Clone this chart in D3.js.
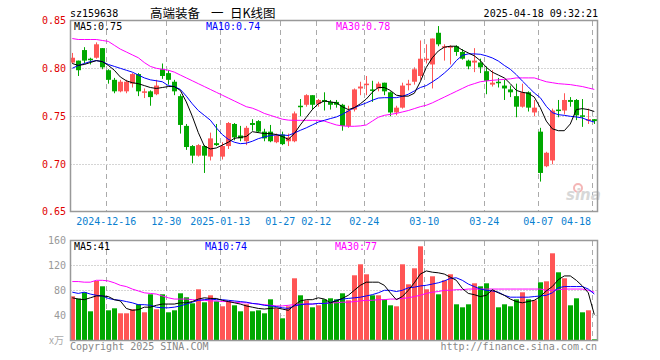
<!DOCTYPE html>
<html>
<head>
<meta charset="utf-8">
<script src="https://cdn.jsdelivr.net/npm/d3@7"></script>
<style>
  body { margin: 0; background: #fff; }
  text { font-family: "DejaVu Sans Mono", monospace; font-size: 10px; }
</style>
</head>
<body>
<div id="kline"></div>
<script>
// trading days shown on the chart
var dates = ["12-06","12-09","12-10","12-11","12-12","12-13","12-16","12-17","12-18","12-19","12-20","12-23","12-24","12-25","12-26","12-27","12-30","12-31",
  "01-02","01-03","01-06","01-07","01-08","01-09","01-10","01-13","01-14","01-15","01-16","01-17","01-20","01-21","01-22","01-23","01-24","01-27",
  "02-05","02-06","02-07","02-10","02-11","02-12","02-13","02-14","02-17","02-18","02-19","02-20","02-21","02-24","02-25","02-26","02-27","02-28",
  "03-03","03-04","03-05","03-06","03-07","03-10","03-11","03-12","03-13","03-14","03-17","03-18","03-19","03-20","03-21","03-24","03-25","03-26","03-27","03-28","03-31",
  "04-01","04-02","04-03","04-07","04-08","04-09","04-10","04-11","04-14","04-15","04-16","04-17","04-18"];

var open  = [0.806,0.808,0.819,0.810,0.811,0.821,0.798,0.788,0.776,0.776,0.784,0.794,0.775,0.776,0.773,0.799,0.795,0.786,
  0.771,0.740,0.719,0.709,0.719,0.708,0.722,0.708,0.719,0.742,0.730,0.724,0.743,0.745,0.734,0.734,0.723,0.731,
  0.724,0.724,0.761,0.762,0.772,0.763,0.767,0.765,0.765,0.762,0.740,0.757,0.779,0.783,0.778,0.779,0.785,0.775,
  0.754,0.759,0.783,0.786,0.792,0.809,0.804,0.837,0.822,0.822,0.823,0.817,0.808,0.806,0.806,0.797,0.783,0.786,0.782,0.778,0.771,
  0.760,0.775,0.754,0.734,0.698,0.704,0.757,0.756,0.767,0.767,0.751,0.746,0.747];
var high  = [0.816,0.808,0.822,0.811,0.827,0.821,0.799,0.790,0.788,0.788,0.795,0.795,0.779,0.777,0.788,0.805,0.798,0.788,
  0.773,0.742,0.720,0.721,0.720,0.733,0.742,0.723,0.744,0.743,0.740,0.740,0.747,0.746,0.737,0.741,0.732,0.734,
  0.732,0.755,0.768,0.773,0.772,0.768,0.775,0.767,0.767,0.763,0.761,0.779,0.786,0.792,0.787,0.786,0.785,0.776,
  0.761,0.785,0.788,0.801,0.829,0.825,0.831,0.844,0.825,0.824,0.824,0.820,0.809,0.821,0.810,0.802,0.798,0.790,0.788,0.782,0.784,
  0.784,0.776,0.767,0.738,0.713,0.758,0.767,0.774,0.770,0.768,0.768,0.758,0.747];
var low   = [0.805,0.792,0.805,0.804,0.810,0.799,0.784,0.774,0.775,0.774,0.780,0.771,0.769,0.761,0.772,0.789,0.783,0.772,
  0.732,0.715,0.701,0.708,0.691,0.704,0.719,0.705,0.716,0.725,0.724,0.720,0.735,0.733,0.724,0.723,0.722,0.720,
  0.719,0.723,0.750,0.760,0.757,0.760,0.756,0.757,0.759,0.735,0.738,0.755,0.772,0.772,0.765,0.776,0.772,0.750,
  0.751,0.758,0.777,0.783,0.788,0.805,0.779,0.823,0.808,0.804,0.813,0.809,0.799,0.796,0.795,0.773,0.781,0.780,0.767,0.770,0.749,
  0.759,0.755,0.750,0.682,0.697,0.700,0.749,0.752,0.760,0.746,0.739,0.742,0.742];
var close = [0.811,0.798,0.808,0.809,0.825,0.801,0.788,0.776,0.786,0.786,0.794,0.776,0.776,0.770,0.782,0.792,0.788,0.776,
  0.741,0.718,0.709,0.720,0.709,0.727,0.720,0.719,0.743,0.728,0.727,0.738,0.741,0.734,0.727,0.724,0.730,0.721,
  0.728,0.753,0.760,0.772,0.762,0.767,0.765,0.762,0.762,0.740,0.756,0.778,0.781,0.784,0.777,0.784,0.776,0.754,
  0.759,0.782,0.784,0.799,0.810,0.810,0.831,0.825,0.823,0.823,0.817,0.810,0.802,0.808,0.801,0.787,0.785,0.785,0.779,0.775,0.760,
  0.775,0.759,0.759,0.691,0.712,0.756,0.756,0.767,0.765,0.751,0.750,0.747,0.745];

var ma5  = [0.805,0.803,0.804,0.806,0.808,0.807,0.803,0.798,0.791,0.787,0.785,0.784,0.782,0.780,0.779,0.780,0.781,0.781,
  0.777,0.765,0.750,0.733,0.719,0.716,0.717,0.720,0.723,0.727,0.728,0.729,0.734,0.733,0.732,0.732,0.731,0.729,
  0.726,0.732,0.741,0.749,0.757,0.763,0.766,0.765,0.764,0.760,0.757,0.759,0.763,0.768,0.775,0.780,0.780,0.777,
  0.772,0.771,0.771,0.774,0.786,0.801,0.811,0.818,0.822,0.823,0.823,0.819,0.816,0.813,0.808,0.801,0.796,0.793,0.790,0.784,0.777,
  0.775,0.774,0.770,0.759,0.745,0.737,0.735,0.735,0.742,0.757,0.758,0.757,0.755];
var ma10 = [0.800,0.803,0.805,0.807,0.808,0.807,0.804,0.802,0.800,0.798,0.796,0.793,0.790,0.788,0.787,0.786,0.782,0.781,
  0.778,0.771,0.763,0.756,0.751,0.746,0.738,0.731,0.726,0.723,0.7215,0.722,0.724,0.7267,0.7285,0.730,0.7306,0.7306,
  0.730,0.7326,0.7354,0.738,0.741,0.744,0.7458,0.7476,0.7493,0.752,0.7555,0.759,0.7615,0.764,0.7667,0.769,0.7694,0.7694,
  0.7694,0.7708,0.773,0.7764,0.780,0.782,0.7858,0.790,0.795,0.8007,0.808,0.8135,0.815,0.815,0.8146,0.813,0.8108,0.8076,0.803,0.799,0.7934,
  0.7868,0.7806,0.7743,0.7694,0.7604,0.7538,0.7517,0.751,0.750,0.7493,0.7483,0.7458,0.744];
var ma30 = [0.831,0.830,0.830,0.830,0.830,0.829,0.828,0.824,0.820,0.817,0.814,0.811,0.806,0.802,0.800,0.799,0.798,0.796,
  0.793,0.790,0.787,0.784,0.781,0.778,0.775,0.772,0.769,0.766,0.763,0.760,0.7585,0.756,0.753,0.751,0.749,0.747,
  0.746,0.7458,0.7458,0.7458,0.7458,0.7458,0.745,0.743,0.741,0.740,0.7396,0.7396,0.740,0.741,0.745,0.749,0.751,0.752,
  0.753,0.7545,0.756,0.758,0.760,0.7615,0.764,0.767,0.770,0.773,0.776,0.779,0.782,0.784,0.786,0.7868,0.7875,0.788,0.7885,0.789,0.790,
  0.790,0.790,0.790,0.788,0.786,0.785,0.784,0.7835,0.783,0.782,0.781,0.7795,0.778];

// volume, 10k shares
var vol = [70.4,66.7,76.8,46.4,94.9,86.4,48,51.2,43.2,43.2,49.6,57.6,44.8,73.6,49.6,73.6,44.8,48,
  75.2,68.8,59.2,81.6,60.8,72,62.4,54.4,62.4,56,46.4,57.6,46.4,48,43.2,65.6,51.2,35.2,
  54.4,99.2,72,64,52.8,56,65.6,67.2,65.6,75.2,64,104,121.6,105.6,72,72,65.6,56,
  54.4,121.6,89.6,115.2,150.4,81.6,102.4,73.6,96,105.6,57.6,52.8,57.6,91.2,86.4,91.2,80,52.8,57.6,54.4,65.6,
  76.8,65.6,64,92.8,94.4,139.2,108.8,99.2,56,67.2,44.8,48,1.6];
var volMa5  = [68,66,65,68,71,71,70,65,63,51,48,49,53,53,56,58,58,58,60,60,62,66,68,67,67,64,62,60,58,55,53,51,50,51,52,50,
  48,56,63,65,65,68,66,60,63,67,72,80,88,93,93,93,88,76,65,70,80,92,106,111,109,108,106,101,96,83,75,73,70,72,81,76,72,66,62,
  60,62,64,70,79,86,97,103,103,96,87,76,41];
var volMa10 = [77,75,77,74,72,71,67,65,64,62,60,57,57,56,53,52,52,53,55,58,61,64,65,66,65,65,64,63,62,61,59,58,56,55,54,52,
  51,55,57,58,58,59,59,60,64,66,67,68,69,71,73,76,80,80,78,80,84,85,87,88,90,92,95,99,100,96,90,86,82,80,79,77,72,69,69,
  69,69,70,71,72,76,84,86,86,86,86,82,74];
var volMa30 = [94,94,93,93,96,96,95,92,88,86,82,79,76,75,74,71,68,66,66,66,65,64,64,63,63,62,62,61,60,60,59,58,57,56,55,55,
  56,57,58,58,58,59,59,60,60,61,61,62,63,64,64,65,65,66,66,67,68,70,72,75,77,78,80,80,81,81,82,82,82,82,82,82,82,82,82,
  82,82,82,82,80,80,81,82,82,82,82,80,77];

var tickDates  = ["12-16","12-30","01-13","01-27","02-12","02-24","03-10","03-24","04-07","04-18"];
var tickLabels = ["2024-12-16","12-30","2025-01-13","01-27","02-12","02-24","03-10","03-24","04-07","04-18"];
var priceTicks = [0.85, 0.80, 0.75, 0.70, 0.65];
var volTicks   = [160, 120, 80, 40];

var RED = "#ff5555", GREEN = "#00a800";

var svg = d3.select("#kline").append("svg").attr("width", 660).attr("height", 360)
    .style("background", "#fff");

var x = d3.scalePoint().domain(dates).range([72.3, 594.3]);
var y = d3.scaleLinear().domain([0.65, 0.85]).range([212.3, 20.3]);
var yv = d3.scaleLinear().domain([0, 160]).range([340.3, 240.3]);

var L = 70.5, R = 597.5;

// header
svg.append("text").attr("x", 70).attr("y", 17).text("sz159638");
var title = [["高端装备", 150], ["一", 211], ["日K线图", 230]];
svg.append("g").selectAll("text").data(title).enter().append("text")
   .attr("x", function(d) { return d[1]; }).attr("y", 18)
   .style("font-family", "'Noto Sans CJK SC', sans-serif").style("font-size", "12.5px")
   .text(function(d) { return d[0]; });
svg.append("text").attr("x", 598).attr("y", 17).attr("text-anchor", "end").text("2025-04-18 09:32:21");

function grid(yScale, hTicks, top, bottom) {
  svg.append("g").selectAll("line").data(hTicks).enter().append("line")
     .attr("x1", L).attr("x2", R)
     .attr("y1", function(d) { return Math.round(yScale(d)) + 0.5; })
     .attr("y2", function(d) { return Math.round(yScale(d)) + 0.5; })
     .attr("stroke", "#aaa").attr("stroke-dasharray", "1,2");
  svg.append("g").selectAll("line").data(tickDates).enter().append("line")
     .attr("x1", function(d) { return Math.round(x(d) - 2) + 0.5; })
     .attr("x2", function(d) { return Math.round(x(d) - 2) + 0.5; })
     .attr("y1", top).attr("y2", bottom)
     .attr("stroke", "#aaa").attr("stroke-dasharray", "5,4");
}
grid(y, [0.80, 0.75, 0.70], 21, 211);
grid(yv, [120, 80, 40], 241, 340);

// watermark
var wm = svg.append("g").attr("transform", "translate(566,200)");
wm.append("circle").attr("cx", 12).attr("cy", -12).attr("r", 4).attr("fill", "none").attr("stroke", "#f4b6b6").attr("stroke-width", 2);
wm.append("text").attr("x", 0).attr("y", 0)
  .style("font-family", "'DejaVu Sans', sans-serif").style("font-size", "15px")
  .style("font-style", "italic").style("font-weight", "bold")
  .attr("fill", "#d8d8d8").text("sina");

// candles
var candles = svg.append("g").selectAll("g").data(dates).enter().append("g");
candles.append("line")
  .attr("x1", function(d) { return Math.round(x(d)) + 0.5; })
  .attr("x2", function(d) { return Math.round(x(d)) + 0.5; })
  .attr("y1", function(d, i) { return y(high[i]); })
  .attr("y2", function(d, i) { return y(low[i]); })
  .attr("stroke", function(d, i) { return close[i] >= open[i] ? RED : GREEN; });
candles.append("rect")
  .attr("x", function(d) { return Math.round(x(d)) - 2; })
  .attr("width", 5)
  .attr("y", function(d, i) { return y(Math.max(open[i], close[i])); })
  .attr("height", function(d, i) { return Math.max(1.5, Math.abs(y(open[i]) - y(close[i]))); })
  .attr("fill", function(d, i) { return close[i] >= open[i] ? RED : GREEN; });

// volume bars
svg.append("g").selectAll("rect").data(dates).enter().append("rect")
  .attr("x", function(d) { return Math.round(x(d)) - 2; })
  .attr("width", 5)
  .attr("y", function(d, i) { return yv(vol[i]); })
  .attr("height", function(d, i) { return yv(0) - yv(vol[i]); })
  .attr("fill", function(d, i) { return close[i] >= open[i] ? RED : GREEN; });

function maLine(values, yScale, color) {
  var line = d3.line()
    .x(function(d, i) { return x(dates[i]); })
    .y(function(d) { return yScale(d); });
  svg.append("path").datum(values).attr("d", line)
     .attr("fill", "none").attr("stroke", color).attr("stroke-width", 1);
}
maLine(ma30, y, "#ff00ff");
maLine(ma10, y, "#0000ff");
maLine(ma5, y, "#000");
maLine(volMa30, yv, "#ff00ff");
maLine(volMa10, yv, "#0000ff");
maLine(volMa5, yv, "#000");

// frames
svg.append("rect").attr("x", L).attr("y", 20.5).attr("width", R - L).attr("height", 191)
   .attr("fill", "none").attr("stroke", "#999").attr("stroke-width", 1.5);
svg.append("rect").attr("x", L).attr("y", 240.5).attr("width", R - L).attr("height", 100)
   .attr("fill", "none").attr("stroke", "#999").attr("stroke-width", 1.5);

// legends
var legP = [["MA5:0.75", "#000", 74], ["MA10:0.74", "#0000ff", 206], ["MA30:0.78", "#ff00ff", 336]];
svg.append("g").selectAll("text").data(legP).enter().append("text")
  .attr("x", function(d) { return d[2]; }).attr("y", 30)
  .attr("fill", function(d) { return d[1]; }).text(function(d) { return d[0]; });
var legV = [["MA5:41", "#000", 74], ["MA10:74", "#0000ff", 205], ["MA30:77", "#ff00ff", 335]];
svg.append("g").selectAll("text").data(legV).enter().append("text")
  .attr("x", function(d) { return d[2]; }).attr("y", 250)
  .attr("fill", function(d) { return d[1]; }).text(function(d) { return d[0]; });

// axes labels
svg.append("g").selectAll("text").data(priceTicks).enter().append("text")
  .attr("x", 66).attr("y", function(d) { return Math.min(y(d), 211) + 4; })
  .attr("text-anchor", "end").attr("fill", "#e00000")
  .text(function(d) { return d.toFixed(2); });
svg.append("g").selectAll("text").data(volTicks).enter().append("text")
  .attr("x", 66).attr("y", function(d) { return yv(d) + 4; })
  .attr("text-anchor", "end").attr("fill", "#999")
  .text(function(d) { return d; });
svg.append("text").attr("x", 49).attr("y", 344).attr("fill", "#aaa")
   .style("font-family", "'Noto Sans CJK SC', sans-serif").style("font-size", "10px").text("x万");

svg.append("g").selectAll("text").data(tickDates).enter().append("text")
  .attr("x", function(d, i) { var p = x(d) - 2; return i === tickDates.length - 1 ? 591 : p; })
  .attr("y", 225)
  .attr("text-anchor", function(d, i) { return i === tickDates.length - 1 ? "end" : "middle"; })
  .attr("fill", "#0a7fd0")
  .text(function(d, i) { return tickLabels[i]; });

svg.append("text").attr("x", 70).attr("y", 350).attr("fill", "#888").text("Copyright 2025 SINA.COM");
svg.append("text").attr("x", 597).attr("y", 350).attr("text-anchor", "end").attr("fill", "#888")
   .text("http://finance.sina.com.cn");
</script>
</body>
</html>
